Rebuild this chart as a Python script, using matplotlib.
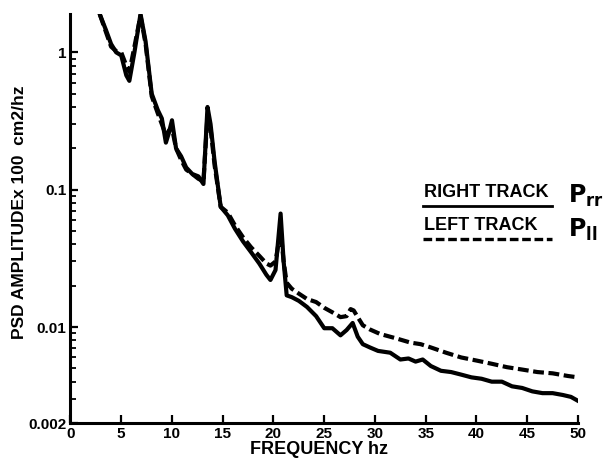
#!/usr/bin/env python3
"""
PSD amplitude spectra of right and left track profiles
"""
import matplotlib
matplotlib.use('Agg')
import matplotlib.pyplot as plt
from matplotlib.lines import Line2D
from matplotlib.ticker import FixedLocator, NullFormatter

plt.rcParams['font.family'] = 'Liberation Sans'
plt.rcParams['font.weight'] = 'bold'

# Right track (P_rr) spectrum
freq_right = [2.9, 3.5, 4.0, 4.5, 5.0, 5.5, 5.8, 6.3, 6.9, 7.4, 8.0, 8.6, 9.0, 9.4,
              9.7, 10.0, 10.4, 10.9, 11.4, 12.0, 12.6, 13.1, 13.5, 13.8, 14.2, 14.8,
              15.5, 16.2, 17.0, 17.8, 18.6, 19.3, 19.7, 20.2, 20.7, 21.0, 21.3, 21.8,
              22.5, 23.3, 24.2, 25.0, 25.8, 26.6, 27.2, 27.8, 28.3, 28.8, 29.5, 30.3,
              31.5, 32.5, 33.3, 34.0, 34.7, 35.5, 36.5, 37.5, 38.5, 39.5, 40.5, 41.5,
              42.5, 43.5, 44.5, 45.5, 46.5, 47.5, 48.5, 49.3, 50.0]
psd_right = [1.88, 1.45, 1.15, 1.0, 0.95, 0.68, 0.62, 1.0, 1.9, 1.2, 0.5, 0.38, 0.33, 0.22,
             0.26, 0.32, 0.2, 0.175, 0.145, 0.13, 0.125, 0.11, 0.40, 0.30, 0.16, 0.075,
             0.065, 0.052, 0.042, 0.035, 0.029, 0.024, 0.022, 0.026, 0.067, 0.03, 0.017, 0.0165,
             0.0155, 0.014, 0.012, 0.0098, 0.0098, 0.0087, 0.0095, 0.0107, 0.0085, 0.0075, 0.0071, 0.0067,
             0.0065, 0.0058, 0.0059, 0.0056, 0.0058, 0.0052, 0.0048, 0.0047, 0.0045, 0.0043, 0.0042, 0.0040,
             0.0040, 0.0037, 0.0036, 0.0034, 0.0033, 0.0033, 0.0032, 0.0031, 0.0029]

# Left track (P_ll) spectrum
freq_left = [2.9, 3.5, 4.0, 4.5, 5.0, 5.5, 5.8, 6.3, 6.9, 7.4, 8.0, 8.6, 9.0, 9.4,
             9.7, 10.0, 10.4, 10.9, 11.4, 12.0, 12.6, 13.1, 13.5, 13.8, 14.2, 14.8,
             15.5, 16.2, 17.0, 17.8, 18.6, 19.3, 19.7, 20.2, 20.7, 21.0, 21.3, 21.8,
             22.5, 23.3, 24.2, 25.0, 25.8, 26.6, 27.2, 27.6, 27.9, 28.3, 28.8, 29.5,
             30.5, 32.0, 33.5, 34.5, 35.5, 37.0, 38.5, 40.0, 41.5, 43.0, 44.5, 46.0,
             47.5, 49.0, 50.0]
psd_left = [1.88, 1.4, 1.1, 1.02, 1.0, 0.8, 0.72, 1.1, 1.85, 1.15, 0.48, 0.36, 0.3, 0.25,
            0.27, 0.28, 0.2, 0.165, 0.14, 0.13, 0.12, 0.115, 0.35, 0.28, 0.15, 0.075,
            0.068, 0.055, 0.045, 0.038, 0.033, 0.029, 0.028, 0.03, 0.05, 0.03, 0.021, 0.019,
            0.0175, 0.016, 0.0152, 0.0138, 0.0128, 0.0118, 0.012, 0.0135, 0.0132, 0.0118, 0.0103, 0.0096,
            0.0089, 0.0083, 0.0077, 0.0075, 0.0071, 0.0065, 0.006, 0.0057, 0.0054, 0.0051, 0.0049, 0.0047,
            0.0046, 0.0044, 0.0043]

x_ticks = [0, 5, 10, 15, 20, 25, 30, 35, 40, 45, 50]
y_ticks = [0.002, 0.01, 0.1, 1]
y_tick_labels = ['0.002', '0.01', '0.1', '1']

DASH = (0, (2.6, 1.1))

fig = plt.figure(figsize=(6.06, 4.59), dpi=100)
ax = fig.add_axes([0.1163, 0.0784, 0.8375, 0.891])

ax.plot(freq_right, psd_right, color='black', linewidth=3.0, solid_joinstyle='round')
ax.plot(freq_left, psd_left, color='black', linewidth=3.0, linestyle=DASH)

ax.set_yscale('log')
ax.set_xlim(0, 50)
ax.set_ylim(0.002, 1.9)

ax.yaxis.set_major_locator(FixedLocator(y_ticks))
ax.set_yticklabels(y_tick_labels)
ax.yaxis.set_minor_formatter(NullFormatter())
ax.set_xticks(x_ticks)
ax.set_xticklabels([str(t) for t in x_ticks])

for side in ['top', 'right']:
    ax.spines[side].set_visible(False)
for side in ['left', 'bottom']:
    ax.spines[side].set_linewidth(2.2)

ax.tick_params(axis='both', which='major', direction='in', length=6, width=1.6,
               labelsize=11)
ax.tick_params(axis='y', which='minor', direction='in', length=4, width=1.3)
ax.tick_params(axis='x', pad=3)
ax.tick_params(axis='y', pad=3)

ax.set_xlabel('FREQUENCY hz', fontsize=13, fontweight='bold')
ax.set_ylabel('PSD AMPLITUDEx 100  cm2/hz', fontsize=12.5, fontweight='bold')
ax.xaxis.set_label_coords(0.49, -0.045)
ax.yaxis.set_label_coords(-0.086, 0.515)

# Legend drawn by hand: label above its line sample, symbol to the right
W, H = 606, 459
fig.text(424 / W, 1 - 192 / H, 'RIGHT TRACK', fontsize=13, fontweight='bold',
         ha='left', va='center')
fig.add_artist(Line2D([423 / W, 552 / W], [1 - 206 / H, 1 - 206 / H],
                      color='black', linewidth=2.0))
fig.text(568 / W, 1 - 196 / H, r'$\mathbf{P}_{\mathbf{rr}}$', fontsize=17,
         ha='left', va='center')

fig.text(424 / W, 1 - 226 / H, 'LEFT TRACK', fontsize=13, fontweight='bold',
         ha='left', va='center')
fig.add_artist(Line2D([423 / W, 552 / W], [1 - 239 / H, 1 - 239 / H],
                      color='black', linewidth=2.4, linestyle=DASH))
fig.text(568 / W, 1 - 230 / H, r'$\mathbf{P}_{\mathbf{ll}}$', fontsize=17,
         ha='left', va='center')

plt.savefig('out.png', dpi=100)
plt.close()
